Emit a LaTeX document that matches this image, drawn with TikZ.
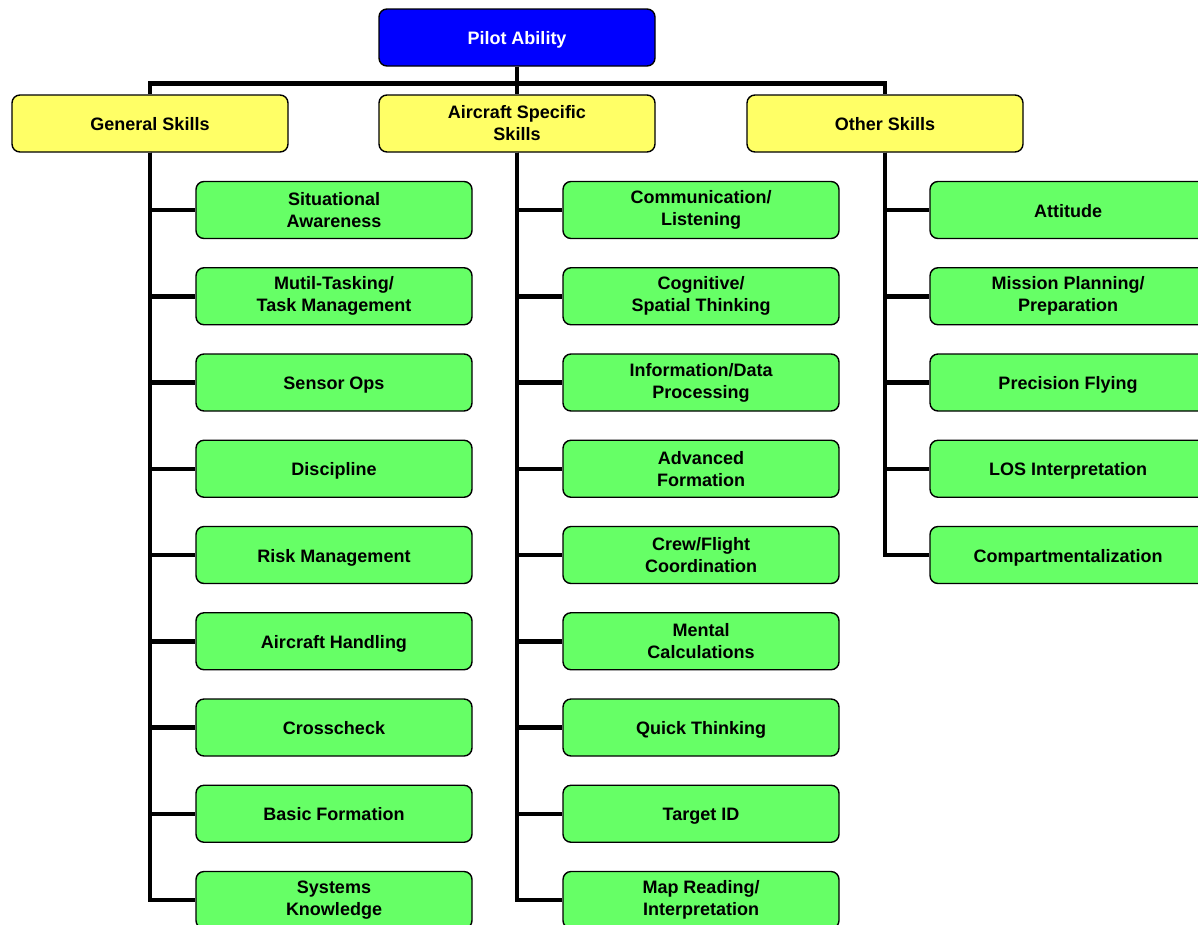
\documentclass[tikz,border=0pt]{standalone}
\usepackage{fontspec}
\setmainfont{Liberation Sans}
\usetikzlibrary{calc}
\definecolor{topblue}{RGB}{0,0,255}
\definecolor{skillyellow}{RGB}{255,255,102}
\definecolor{skillgreen}{RGB}{102,255,102}
\tikzset{%
  skillbox/.style={draw=black, line width=1.4pt, rounded corners=8pt,
    minimum width=276pt, minimum height=57pt, inner sep=0pt,
    align=center, font=\fontsize{18pt}{22pt}\selectfont\bfseries},
  oneline/.style={text height=14pt, text depth=0pt},
  rootbox/.style={skillbox, fill=topblue, text=white},
  groupbox/.style={skillbox, fill=skillyellow},
  leafbox/.style={skillbox, fill=skillgreen},
  tree/.style={draw=black, line width=4.5pt, line join=miter}
}

\begin{document}
\begin{tikzpicture}[x=1pt,y=-1pt]
\useasboundingbox (0,0) rectangle (1198,924);
\clip (0,0) rectangle (1198,924);

% top and skill groups
\node[rootbox,oneline] at (517,37.5) (pilot) {Pilot Ability};
\node[groupbox,oneline] at (150,123.5) (general) {General Skills};
\node[groupbox] at (517,123.5) (aircraft) {Aircraft Specific\\ Skills};
\node[groupbox,oneline] at (885,123.5) (other) {Other Skills};

% general skills
\node[leafbox] at (334,210) (awareness) {Situational\\ Awareness};
\node[leafbox] at (334,296.25) (multitask) {Mutil-Tasking/\\ Task Management};
\node[leafbox,oneline] at (334,382.5) (sensor) {Sensor Ops};
\node[leafbox,oneline] at (334,468.75) (discipline) {Discipline};
\node[leafbox,oneline] at (334,555) (risk) {Risk Management};
\node[leafbox,oneline] at (334,641.25) (handling) {Aircraft Handling};
\node[leafbox,oneline] at (334,727.5) (crosscheck) {Crosscheck};
\node[leafbox,oneline] at (334,813.75) (basicform) {Basic Formation};
\node[leafbox] at (334,900) (systems) {Systems\\ Knowledge};

% aircraft specific skills
\node[leafbox] at (701,210) (comms) {Communication/\\ Listening};
\node[leafbox] at (701,296.25) (cognitive) {Cognitive/\\ Spatial Thinking};
\node[leafbox] at (701,382.5) (infoproc) {Information/Data\\ Processing};
\node[leafbox] at (701,468.75) (advform) {Advanced\\ Formation};
\node[leafbox] at (701,555) (crew) {Crew/Flight\\ Coordination};
\node[leafbox] at (701,641.25) (mental) {Mental\\ Calculations};
\node[leafbox,oneline] at (701,727.5) (quick) {Quick Thinking};
\node[leafbox,oneline] at (701,813.75) (target) {Target ID};
\node[leafbox] at (701,900) (mapread) {Map Reading/\\ Interpretation};

% other skills
\node[leafbox,oneline] at (1068,210) (attitude) {Attitude};
\node[leafbox] at (1068,296.25) (mission) {Mission Planning/\\ Preparation};
\node[leafbox,oneline] at (1068,382.5) (precision) {Precision Flying};
\node[leafbox,oneline] at (1068,468.75) (los) {LOS Interpretation};
\node[leafbox,oneline] at (1068,555) (compart) {Compartmentalization};

% connectors
\draw[tree] (pilot.south) -- ++(0,17) -| (general.north);
\draw[tree] (pilot.south) -- (aircraft.north);
\draw[tree] (pilot.south) -- ++(0,17) -| (other.north);

\draw[tree] (general.south) |- (awareness.west);
\draw[tree] (general.south) |- (multitask.west);
\draw[tree] (general.south) |- (sensor.west);
\draw[tree] (general.south) |- (discipline.west);
\draw[tree] (general.south) |- (risk.west);
\draw[tree] (general.south) |- (handling.west);
\draw[tree] (general.south) |- (crosscheck.west);
\draw[tree] (general.south) |- (basicform.west);
\draw[tree] (general.south) |- (systems.west);

\draw[tree] (aircraft.south) |- (comms.west);
\draw[tree] (aircraft.south) |- (cognitive.west);
\draw[tree] (aircraft.south) |- (infoproc.west);
\draw[tree] (aircraft.south) |- (advform.west);
\draw[tree] (aircraft.south) |- (crew.west);
\draw[tree] (aircraft.south) |- (mental.west);
\draw[tree] (aircraft.south) |- (quick.west);
\draw[tree] (aircraft.south) |- (target.west);
\draw[tree] (aircraft.south) |- (mapread.west);

\draw[tree] (other.south) |- (attitude.west);
\draw[tree] (other.south) |- (mission.west);
\draw[tree] (other.south) |- (precision.west);
\draw[tree] (other.south) |- (los.west);
\draw[tree] (other.south) |- (compart.west);
\end{tikzpicture}
\end{document}
